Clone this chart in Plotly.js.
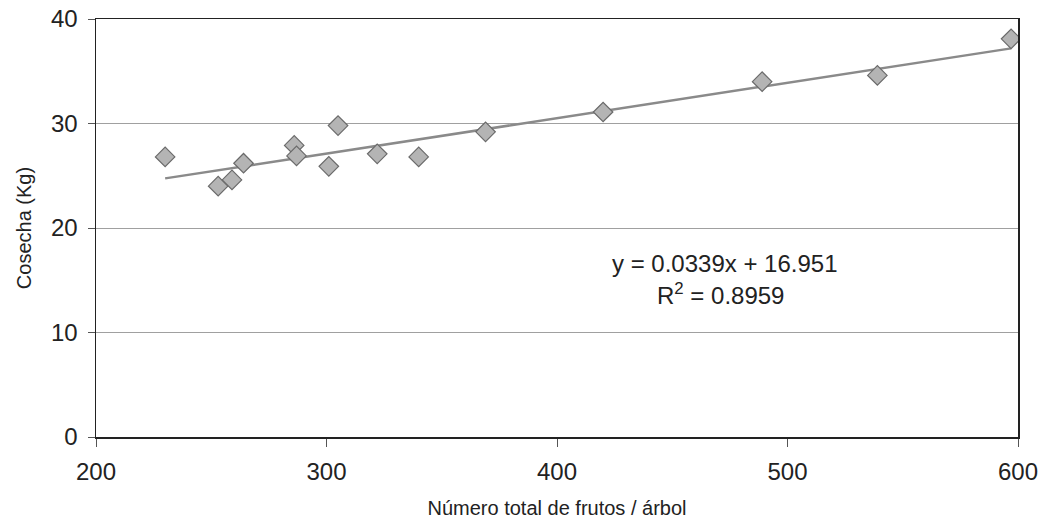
<!DOCTYPE html>
<html>
<head>
<meta charset="utf-8">
<script src="https://cdn.plot.ly/plotly-3.0.1.min.js"></script>
<style>html,body{margin:0;padding:0;background:#fff;}#chart{width:1044px;height:525px;}</style>
</head>
<body>
<div id="chart"></div>
<script>
// Data
const frutos = [230, 253, 259, 264, 286, 287, 301, 305, 322, 340, 369, 420, 489, 539, 597];
const cosecha = [26.8, 24.0, 24.6, 26.2, 27.9, 26.9, 25.9, 29.8, 27.1, 26.8, 29.2, 31.1, 34.0, 34.6, 38.1];
const slope = 0.0339;
const intercept = 16.951;
const r2 = 0.8959;
const xTicks = [200, 300, 400, 500, 600];
const yTicks = [0, 10, 20, 30, 40];

const xMin = Math.min(...frutos), xMax = Math.max(...frutos);
const trendX = [xMin, xMax];
const trendY = trendX.map(v => slope * v + intercept);

const font = "Liberation Sans, Arial, sans-serif";

const traces = [
  {
    x: trendX, y: trendY, mode: 'lines', type: 'scatter',
    line: {color: '#8a8a8a', width: 2.5}, hoverinfo: 'skip', showlegend: false
  },
  {
    x: frutos, y: cosecha, mode: 'markers', type: 'scatter',
    marker: {symbol: 'diamond', size: 15, color: '#b4b4b4', line: {color: '#6a6a6a', width: 1.2}},
    showlegend: false
  }
];

const layout = {
  width: 1044, height: 525,
  margin: {l: 96, r: 26, t: 19, b: 88},
  paper_bgcolor: '#fff', plot_bgcolor: '#fff',
  font: {family: font, color: '#222'},
  xaxis: {
    range: [200, 600], tickvals: xTicks, ticks: 'outside', ticklen: 8, tickcolor: '#555',
    ticklabelstandoff: 5,
    showgrid: false, zeroline: false, showline: true, linecolor: '#222', linewidth: 1.5, mirror: true,
    tickfont: {size: 24, family: font, color: '#222'},
    title: {text: 'Número total de frutos / árbol', font: {size: 20, family: font, color: '#222'}, standoff: 16}
  },
  yaxis: {
    range: [0, 40], tickvals: yTicks, ticks: 'outside', ticklen: 7, tickcolor: '#555',
    ticklabelstandoff: 5,
    showgrid: true, gridcolor: '#a0a0a0', gridwidth: 1, zeroline: false,
    showline: true, linecolor: '#222', linewidth: 1.5, mirror: true,
    tickfont: {size: 24, family: font, color: '#222'},
    title: {text: 'Cosecha (Kg)', font: {size: 20, family: font, color: '#222'}, standoff: 14}
  },
  annotations: [
    {
      x: 0.682, y: 0.416, xref: 'paper', yref: 'paper', xanchor: 'center', yanchor: 'middle',
      text: 'y = ' + slope + 'x + ' + intercept,
      showarrow: false, font: {size: 24, family: font, color: '#222'}
    },
    {
      x: 0.677, y: 0.343, xref: 'paper', yref: 'paper', xanchor: 'center', yanchor: 'middle',
      text: 'R<sup>2</sup> = ' + r2,
      showarrow: false, font: {size: 24, family: font, color: '#222'}
    }
  ]
};

Plotly.newPlot('chart', traces, layout, {displayModeBar: false, staticPlot: true});
</script>
</body>
</html>
